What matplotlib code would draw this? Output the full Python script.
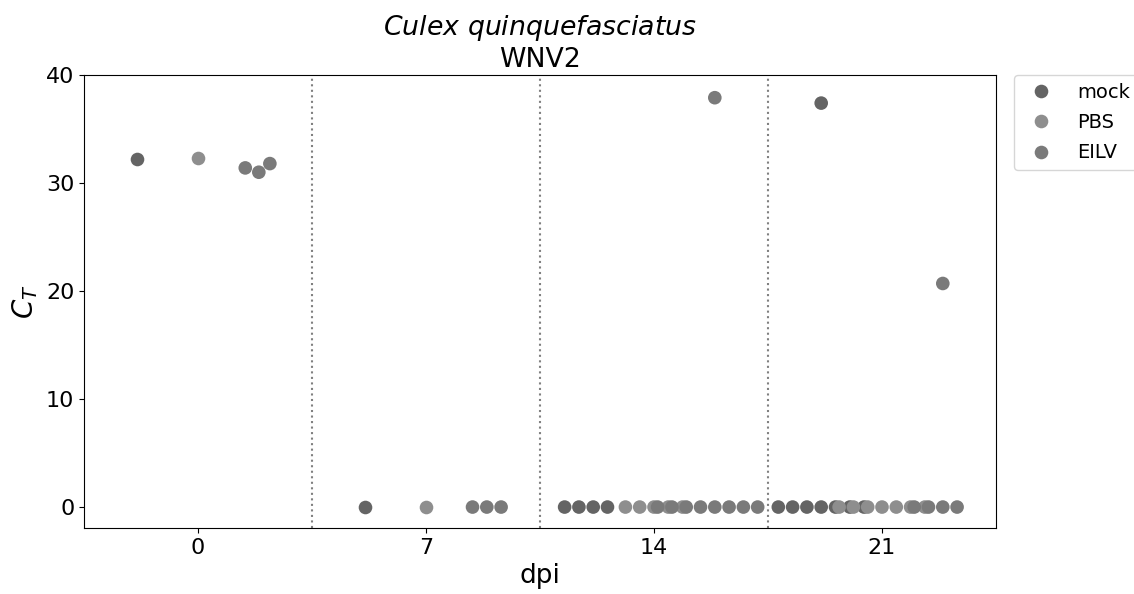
import matplotlib
matplotlib.use("Agg")
import matplotlib.pyplot as plt
import numpy as np
import pandas as pd
import seaborn as sns

dpi_levels = ["0", "7", "14", "21"]
groups = ["mock", "PBS", "EILV"]
group_colors = ["#646464", "#8e8e8e", "#7a7a7a"]

# CT values per group, one list per dpi level
mock_ct = [[32.2], [0.0], [0.0, 0.0, 0.0, 0.0],
           [0.0, 0.0, 0.0, 0.0, 0.0, 0.0, 0.0, 37.4]]
pbs_ct = [[32.3], [0.0], [0.0, 0.0, 0.0, 0.0, 0.0],
          [0.0, 0.0, 0.0, 0.0, 0.0, 0.0, 0.0]]
eilv_ct = [[31.4, 31.0, 31.8], [0.0, 0.0, 0.0],
           [0.0, 0.0, 0.0, 0.0, 0.0, 0.0, 0.0, 0.0, 37.9],
           [0.0, 0.0, 0.0, 0.0, 20.7]]

rows = []
for name, series in zip(groups, [mock_ct, pbs_ct, eilv_ct]):
    for day, vals in zip(dpi_levels, series):
        for v in vals:
            rows.append({"dpi": day, "group": name, "CT": v})
df = pd.DataFrame(rows)

fig = plt.figure(figsize=(11.34, 5.94), dpi=100)
ax = fig.add_axes([0.0741, 0.1111, 0.8042, 0.7626])

sns.swarmplot(data=df, x="dpi", y="CT", hue="group", order=dpi_levels,
              hue_order=groups, palette=group_colors, dodge=True,
              size=9.8, linewidth=0, ax=ax)

for xv in [0.5, 1.5, 2.5]:
    ax.axvline(xv, color="grey", linestyle=":", linewidth=1.5)

ax.set_xlim(-0.5, 3.5)
ax.set_ylim(-1.94, 40)
ax.set_yticks([0, 10, 20, 30, 40])
ax.tick_params(labelsize=16)
ax.set_xlabel("dpi", fontsize=19)
ax.set_ylabel("$C_T$", fontsize=20)
ax.set_title(r"$\it{Culex\ quinquefasciatus}$" + "\nWNV2", fontsize=19.3)

ax.legend(loc="upper left", bbox_to_anchor=(1.0195, 1.0), fontsize=14,
          borderaxespad=0, handletextpad=0.85, labelspacing=0.58)

fig.savefig("out.png", dpi=100)
